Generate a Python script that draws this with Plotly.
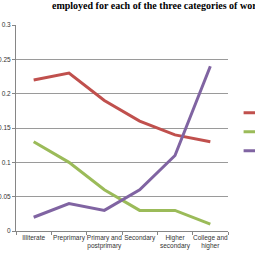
import plotly.graph_objects as go

categories = ["Illiterate", "Preprimary", "Primary and<br>postprimary", "Secondary",
              "Higher<br>secondary", "College and<br>higher"]
series_names = ["Self-employed", "Regular", "Casual"]
red_vals = [0.22, 0.23, 0.19, 0.16, 0.14, 0.13]
green_vals = [0.13, 0.10, 0.06, 0.03, 0.03, 0.01]
purple_vals = [0.02, 0.04, 0.03, 0.06, 0.11, 0.24]
colors = ["#C0504D", "#9BBB59", "#8064A2"]
y_ticks = [0, 0.05, 0.1, 0.15, 0.2, 0.25, 0.3]
y_tick_text = ["0", "0.05", "0.1", "0.15", "0.2", "0.25", "0.3"]

fig = go.Figure()
for name, vals, col in zip(series_names, [red_vals, green_vals, purple_vals], colors):
    fig.add_trace(go.Scatter(x=categories, y=vals, mode="lines", name=name,
                             line=dict(color=col, width=3)))

fig.update_layout(
    width=255, height=254,
    margin=dict(l=16, r=27, t=25, b=23, autoexpand=False),
    paper_bgcolor="white", plot_bgcolor="white",
    font=dict(family="Liberation Sans", size=7, color="#333333"),
    showlegend=True,
    legend=dict(x=1.05, y=0.645, xanchor="left", yanchor="top",
                font=dict(size=7), tracegroupgap=0, itemwidth=30,
                bgcolor="rgba(0,0,0,0)"),
    annotations=[dict(text="<b>employed for each of the three categories of workers</b>",
                      xref="paper", yref="paper", x=(50 - 16) / 212, y=1,
                      xanchor="left", yanchor="bottom", yshift=12, showarrow=False,
                      font=dict(family="Liberation Serif", size=10, color="black"))],
)
fig.update_xaxes(showline=True, linecolor="#868686", linewidth=1,
                 ticks="outside", tickson="boundaries", ticklen=3, tickcolor="#868686",
                 showgrid=False, tickfont=dict(size=6.5), tickangle=0, range=[-0.5, 5.5])
fig.update_yaxes(range=[0, 0.3], tickvals=y_ticks, ticktext=y_tick_text,
                 showgrid=True, gridcolor="#9a9a9a", gridwidth=1,
                 showline=True, linecolor="#868686", linewidth=1,
                 ticks="outside", ticklen=3, tickcolor="#868686",
                 zeroline=False, tickfont=dict(size=6.5))

fig.write_html("out.html")
